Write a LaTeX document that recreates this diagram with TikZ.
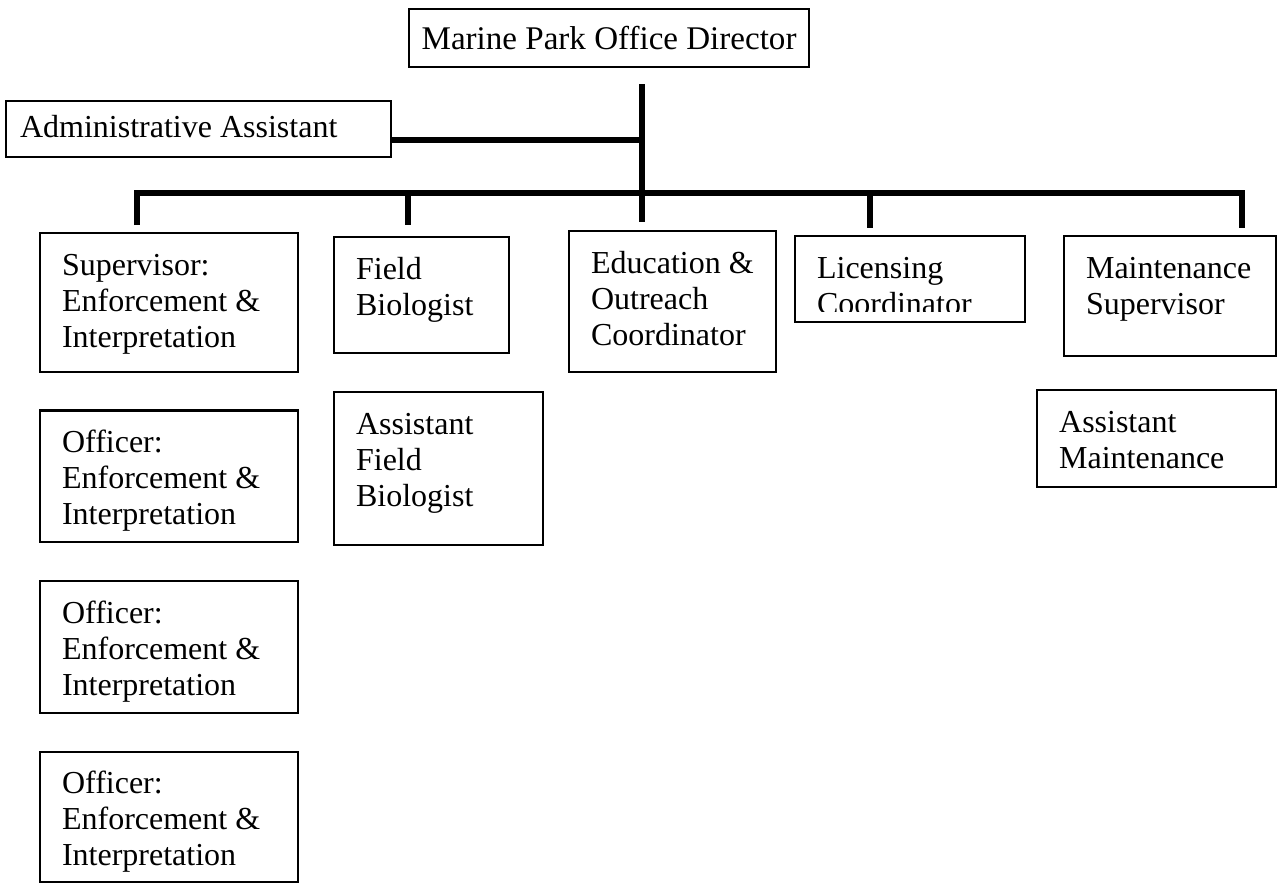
\documentclass[tikz,border=0pt]{standalone}
\usepackage{fontspec}
\setmainfont{Liberation Serif}
\usetikzlibrary{positioning}

\begin{document}
\begin{tikzpicture}[x=0.375pt, y=-0.375pt, node distance=13.8pt,
    post/.style={draw, line width=0.8pt, anchor=north west, align=flush left,
      inner xsep=8.25pt, inner ysep=0pt, text height=15.75pt,
      font=\fontsize{12}{13.5}\selectfont},
    link/.style={line width=2.6pt}]
\useasboundingbox (0,0) rectangle (1282,886);
% top of the chart
\node (dir) [draw, line width=0.8pt, anchor=north west, minimum width=150pt,
  minimum height=21.75pt, font=\fontsize{12.4}{14}\selectfont] at (408,8) {Marine Park Office Director};
\node (adm) [post, inner xsep=5.25pt, text width=133.9pt, text height=13.5pt, text depth=7.5pt] at (5,100) {Administrative Assistant};
% first row
\node (sup) [post, text width=80.25pt, text depth=36.2pt] at (39,232) {Supervisor:\\Enforcement \&\\Interpretation};
\node (fld) [post, text width=49.1pt, text depth=27.75pt] at (333,236) {Field\\Biologist};
\node (edu) [post, text width=61.1pt, text depth=37.1pt] at (568,230) {Education~\&\\Outreach\\Coordinator};
\node (lic) [post, text width=69.75pt, text depth=16.5pt] at (794,235) {};
\begin{scope}
  \clip (lic.north west) rectangle ([yshift=4.3pt]lic.south east);
  \node (lictext) [post, draw=none, text width=69.75pt, text depth=16.5pt] at (lic.north west) {Licensing\\Coordinator};
\end{scope}
\node (mnt) [post, text width=63pt, text depth=29.25pt] at (1063,235) {Maintenance\\Supervisor};
% stacked below
\node (off1) [post, text width=80.25pt, text depth=33.6pt, below=of sup] {Officer:\\Enforcement \&\\Interpretation};
\node (off2) [post, text width=80.25pt, text depth=33.6pt, below=of off1] {Officer:\\Enforcement \&\\Interpretation};
\node (off3) [post, text width=80.25pt, text depth=33.2pt, below=of off2] {Officer:\\Enforcement \&\\Interpretation};
\node (afld) [post, text width=61.9pt, text depth=41.6pt, below=of fld.south west, anchor=north west] {Assistant\\Field\\Biologist};
\node (amnt) [post, text width=73.1pt, text depth=20.6pt, below=12pt of mnt.south east, anchor=north east] {Assistant\\Maintenance};
% lines
\coordinate (hub) at (642,193);
\coordinate (b1) at (137,193);
\coordinate (b2) at (408,193);
\coordinate (b4) at (870,193);
\coordinate (b5) at (1242,193);
\draw[link] ([yshift=-6pt]dir.south -| hub) -- ([yshift=3pt]edu.north -| hub);
\draw[link] ([yshift=-4.1pt]adm.east) -- ([yshift=-4.1pt]adm.east -| hub);
\draw[link, shorten <=2.6pt, shorten >=2.6pt] (b1 |- sup.north) -- (b1) -- (b5) -- (b5 |- mnt.north);
\draw[link, shorten >=4pt] (b2) -- (b2 |- fld.north);
\draw[link, shorten >=2.6pt] (b4) -- (b4 |- lic.north);
\end{tikzpicture}
\end{document}
